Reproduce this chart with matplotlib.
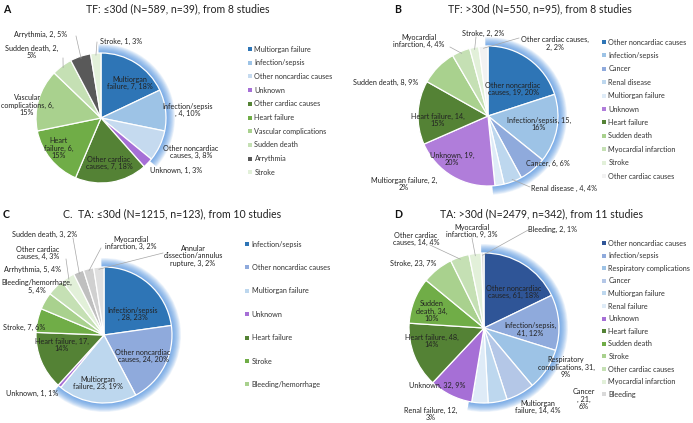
import textwrap
import matplotlib
matplotlib.use('Agg')
import matplotlib.pyplot as plt
from matplotlib.patches import Wedge
import numpy as np

plt.rcParams['font.family'] = ['Lato', 'DejaVu Sans']

W, H = 693, 423

# ---- panel A: TF <=30d
a_names = ['Multiorgan failure', 'Infection/sepsis ', 'Other noncardiac causes', 'Unknown',
           'Other cardiac causes', 'Heart failure', 'Vascular complications', 'Sudden death',
           'Arrythmia', 'Stroke']
a_vals = [7, 4, 3, 1, 7, 6, 6, 2, 2, 1]
a_pct = [18, 10, 8, 3, 18, 15, 15, 5, 5, 3]
a_colors = ['#2E75B6', '#9DC3E6', '#C5DAEF', '#A66FD6', '#548235', '#70AD47', '#A9D18E',
            '#C5E0B4', '#595959', '#E2F0D9']

# ---- panel B: TF >30d
b_names = ['Other noncardiac causes', 'Infection/sepsis', 'Cancer', 'Renal disease ',
           'Multiorgan failure', 'Unknown', 'Heart failure', 'Sudden death',
           'Myocardial infarction', 'Stroke', 'Other cardiac causes']
b_vals = [19, 15, 6, 4, 2, 19, 14, 8, 4, 2, 2]
b_pct = [20, 16, 6, 4, 2, 20, 15, 9, 4, 2, 2]
b_colors = ['#2E75B6', '#9DC3E6', '#8FAADC', '#BDD7EE', '#DEEBF7', '#B07DDA', '#548235',
            '#A9D18E', '#C5E0B4', '#E2F0D9', '#F2F2F2']

# ---- panel C: TA <=30d
c_names = ['Infection/sepsis ', 'Other noncardiac causes', 'Multiorgan failure', 'Unknown',
           'Heart failure', 'Stroke', 'Bleeding/hemorrhage', 'Arrhythmia',
           'Other cardiac causes', 'Sudden death', 'Myocardial infarction',
           'Annular dissection/annulus rupture']
c_vals = [28, 24, 23, 1, 17, 7, 5, 5, 4, 3, 3, 3]
c_pct = [23, 20, 19, 1, 14, 6, 4, 4, 3, 2, 2, 2]
c_colors = ['#2E75B6', '#8FAADC', '#BDD7EE', '#A66FD6', '#548235', '#70AD47', '#A9D18E',
            '#C5E0B4', '#E2F0D9', '#BFBFBF', '#D0D0D0', '#E0E0E0']

# ---- panel D: TA >30d
d_names = ['Other noncardiac causes', 'Infection/sepsis', 'Respiratory complications',
           'Cancer ', 'Multiorgan failure', 'Renal failure', 'Unknown', 'Heart failure',
           'Sudden death', 'Stroke', 'Other cardiac causes', 'Myocardial infarction', 'Bleeding']
d_vals = [61, 41, 31, 21, 14, 12, 32, 48, 34, 23, 14, 9, 2]
d_pct = [18, 12, 9, 6, 4, 3, 9, 14, 10, 7, 4, 3, 1]
d_colors = ['#2F5597', '#8FAADC', '#9DC3E6', '#B4C7E7', '#BDD7EE', '#DEEBF7', '#A66FD6',
            '#548235', '#70AD47', '#A9D18E', '#C5E0B4', '#E2F0D9', '#D9D9D9']

panels = [
    dict(letter='A', title='TF: \u226430d (N=589, n=39), from 8 studies', tx=178, lx=3, ty=9,
         names=a_names, vals=a_vals, pct=a_pct, colors=a_colors, cx=101, cy=118, r=65, glow=3,
         wrap=[16, 17, 16, 40, 14, 11, 17, 16, 40, 40],
         lab=[(130, 83), (188, 110), (191, 152), (176, 170), (109, 163), (59, 148), (27, 105),
              (32, 52), (41, 34), (121, 41)],
         line=[None, None, None, None, None, None, None, (63, 58), (76, 36), (97, 42)],
         leg=(250, 49, 13.7), nleg=10),
    dict(letter='B', title='TF: >30d (N=550, n=95), from 8 studies', tx=540, lx=394, ty=9,
         names=b_names, vals=b_vals, pct=b_pct, colors=b_colors, cx=488, cy=116, r=70, glow=5,
         wrap=[16, 21, 40, 40, 22, 12, 18, 40, 17, 40, 21],
         lab=[(513, 89), (539, 124), (548, 163), (564, 188), (404, 184), (452, 159), (438, 120),
              (386, 82), (419, 41), (483, 33), (555, 43)],
         line=[None, None, None, (530, 187), None, None, None, None, (450, 47), (476, 37),
               (519, 38)],
         leg=(604, 42, 13.4), nleg=11),
    dict(letter='C', title='C.  TA: \u226430d (N=1215, n=123), from 10 studies', tx=172, lx=3,
         ty=214, names=c_names, vals=c_vals, pct=c_pct, colors=c_colors, cx=104, cy=335, r=68,
         glow=3,
         wrap=[16, 16, 16, 40, 18, 40, 20, 40, 13, 40, 17, 18],
         lab=[(133, 314), (143, 356), (98, 383), (32, 393), (62, 345), (24, 327), (37, 286),
              (32, 269), (38, 253), (45, 234), (131, 243), (193, 256)],
         line=[None] * 8 + [(66, 259), (73, 238), (101, 248), (163, 253)],
         leg=(247, 244, 23.4), nleg=7),
    dict(letter='D', title='TA: >30d (N=2479, n=342), from 11 studies', tx=541, lx=394, ty=214,
         names=d_names, vals=d_vals, pct=d_pct, colors=d_colors, cx=484, cy=328, r=75, glow=6,
         wrap=[16, 17, 18, 6, 15, 18, 40, 18, 10, 40, 14, 17, 40],
         lab=[(514, 292), (530, 329), (566, 367), (584, 399), (538, 407), (431, 414), (437, 385),
              (432, 341), (432, 311), (413, 263), (416, 239), (472, 231), (553, 229)],
         line=[None] * 10 + [(430, 245), (472, 238), (530, 229)],
         leg=(604, 243, 12.6), nleg=13),
]

fig = plt.figure(figsize=(W / 100, H / 100), dpi=100)
ax = fig.add_axes([0, 0, 1, 1])

for p in panels:
    cx, cy, r = p['cx'], H - p['cy'], p['r']
    vals = np.array(p['vals'], dtype=float)
    tot = vals.sum()
    cum = np.concatenate([[0], np.cumsum(vals)])

    # soft blue glow behind the noncardiac wedges
    t2 = 90 + 2
    t1 = 90 - 360 * cum[p['glow']] / tot - 2
    n = 14
    for k in range(n):
        ro = r + 9 * (k + 1) / n
        ax.add_patch(Wedge((cx, cy), ro, t1, t2, width=ro - r * 0.95,
                           facecolor='#4A8FE0', edgecolor='none', alpha=0.085, zorder=1))

    ax.pie(vals, colors=p['colors'], startangle=90, counterclock=False,
           center=(cx, cy), radius=r, frame=True,
           wedgeprops=dict(edgecolor='white', linewidth=0.9, zorder=2))

    for i, nm in enumerate(p['names']):
        txt = textwrap.fill(f"{nm}, {p['vals'][i]}, {p['pct'][i]}%", p['wrap'][i])
        lx, ly = p['lab'][i]
        ax.text(lx, H - ly, txt, ha='center', va='center', fontsize=5.2, color='#222222',
                linespacing=1.15, zorder=5)
        if p['line'][i] is not None:
            mid = np.deg2rad(90 - 360 * (cum[i] + vals[i] / 2) / tot)
            sx, sy = p['line'][i]
            ax.plot([sx, cx + r * 0.97 * np.cos(mid)], [H - sy, cy + r * 0.97 * np.sin(mid)],
                    color='#A6A6A6', lw=0.5, zorder=4)

    # legend
    gx, gy, dy = p['leg']
    for i in range(p['nleg']):
        ax.scatter(gx, H - (gy + i * dy), marker='s', s=7, color=p['colors'][i], zorder=5,
                   linewidths=0)
        ax.text(gx + 4.5, H - (gy + i * dy), p['names'][i].strip(), ha='left', va='center',
                fontsize=5.2, color='#333333')

    ax.text(p['tx'], H - p['ty'], p['title'], ha='center', va='center', fontsize=7.6,
            color='#222222')
    ax.text(p['lx'], H - p['ty'], p['letter'], ha='left', va='center', fontsize=7.6,
            fontweight='bold', color='#111111')

ax.set_xlim(0, W)
ax.set_ylim(0, H)
ax.set_aspect('auto')
ax.axis('off')

fig.savefig('out.png', dpi=100, facecolor='white')
